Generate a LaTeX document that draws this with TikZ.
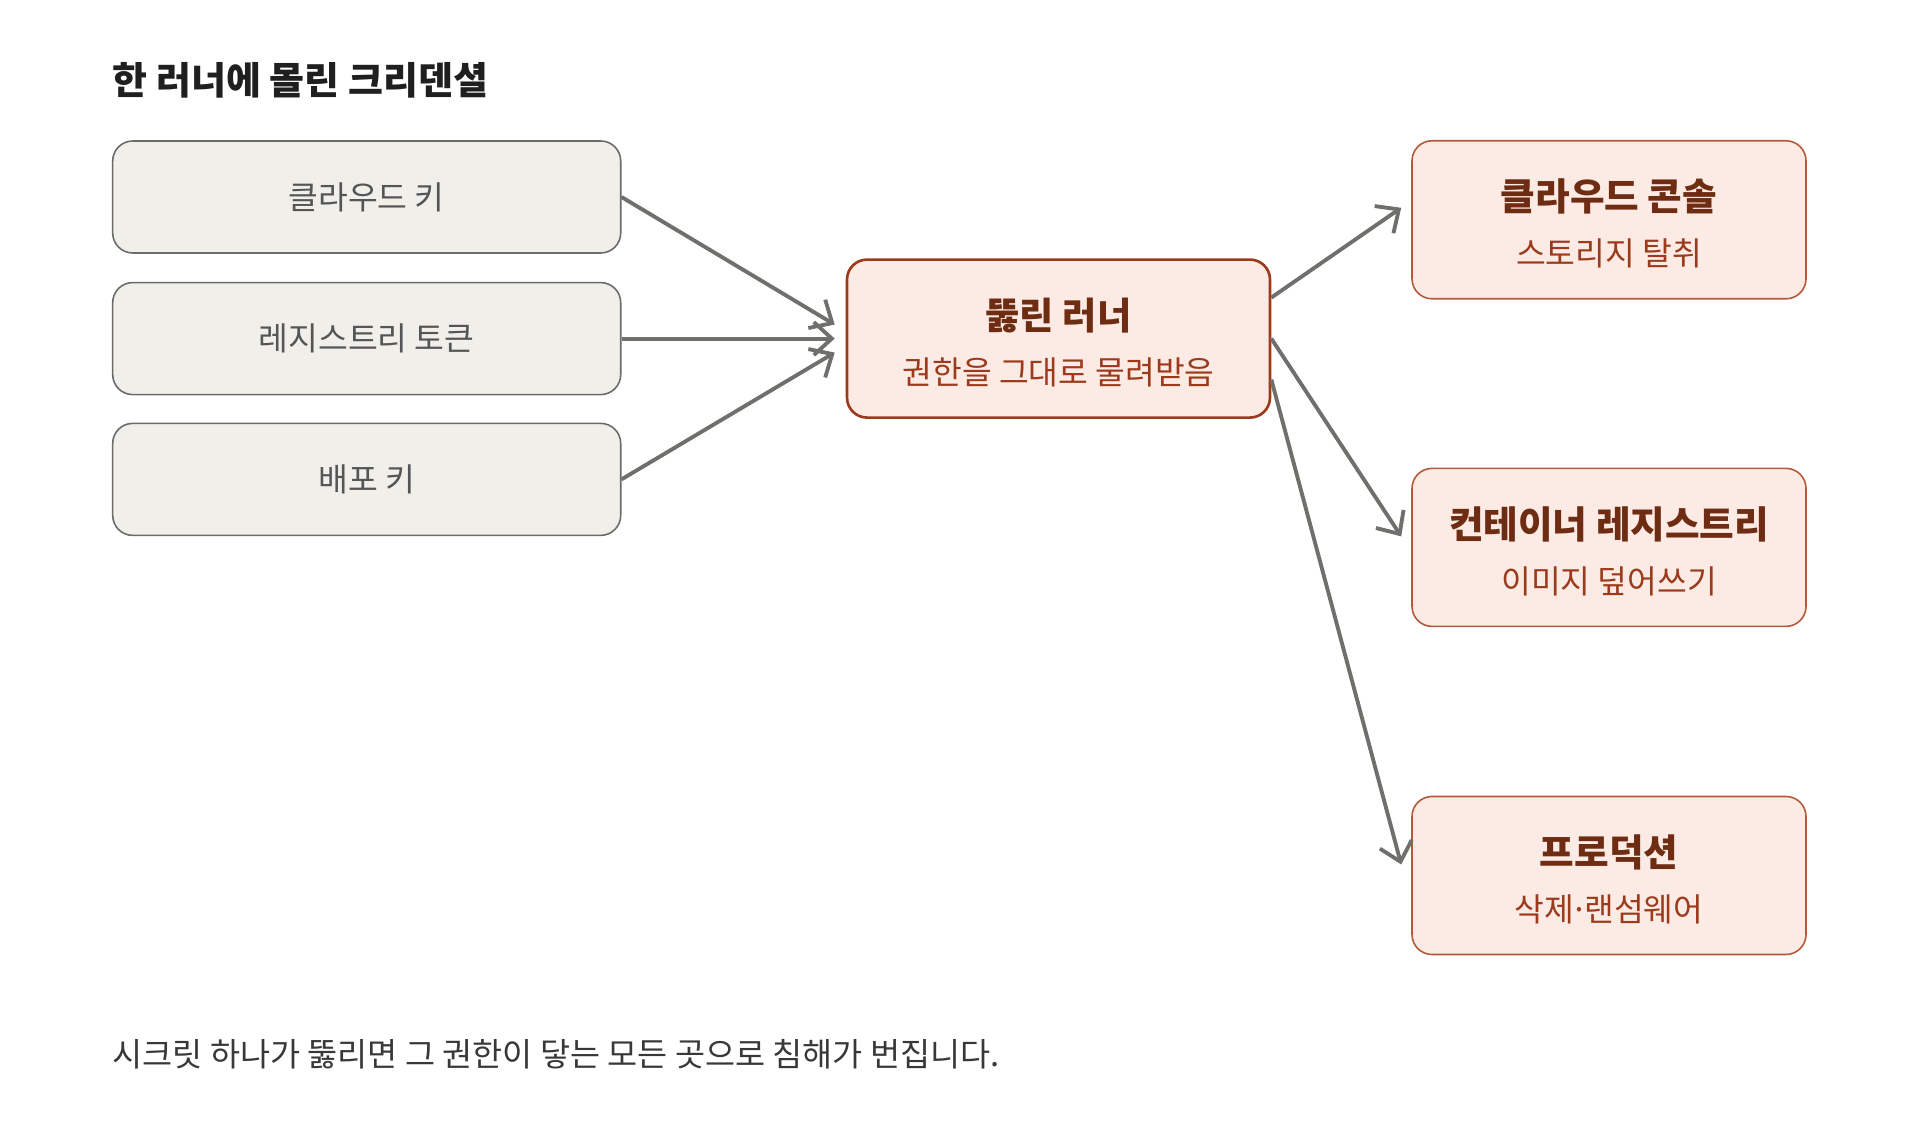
\documentclass[tikz,border=0pt]{standalone}
\usepackage{fontspec}
\setmainfont{Noto Sans CJK KR}
\usepackage{tikz}
\usetikzlibrary{arrows.meta,positioning,calc}
\definecolor{keyFill}{HTML}{F0EFEA}
\definecolor{keyDraw}{HTML}{6B6B6B}
\definecolor{keyText}{HTML}{555555}
\definecolor{hitFill}{HTML}{FCEAE4}
\definecolor{runDraw}{HTML}{9C3B1C}
\definecolor{hitDraw}{HTML}{B4583A}
\definecolor{hitHead}{HTML}{6E2C12}
\definecolor{hitSub}{HTML}{9C3B1C}
\definecolor{arrGray}{HTML}{6F6F6B}
\tikzset{
	kbox/.style={
		draw=keyDraw,
		fill=keyFill,
		rounded corners=0.2cm,
		line width=0.45pt,
		minimum width=5.08cm,
		minimum height=1.12cm,
		inner sep=0pt,
		text=keyText,
		font=\fontsize{9.2}{11}\selectfont
	},
	hbox/.style={
		draw=hitDraw,
		fill=hitFill,
		rounded corners=0.2cm,
		line width=0.45pt,
		minimum width=3.94cm,
		minimum height=1.58cm,
		inner sep=0pt,
		align=center,
		text=hitHead,
		font=\fontsize{10.7}{12}\selectfont
	},
	sarr/.style={-{Straight Barb[length=1.8mm,width=3.3mm]}, line width=1.1pt, arrGray}
}
\newcommand{\hhead}[1]{\rule{0pt}{1.05em}\bfseries #1}
\newcommand{\hsub}[1]{{\fontsize{9.2}{11}\selectfont\mdseries\color{hitSub}#1}}

\begin{document}
\begin{tikzpicture}[x=1cm, y=1cm]
		\useasboundingbox (0,0) rectangle (19.2,11.35);
		\node[anchor=west, inner sep=0pt, text=black!88, font=\fontsize{10.8}{12}\selectfont\bfseries] (title) at (1.12,10.55) {한 러너에 몰린 크리덴셜};
		\node[kbox] (k1) at (3.667,9.38) {클라우드 키};
		\node[kbox] (k2) at (3.667,7.964) {레지스트리 토큰};
		\node[kbox] (k3) at (3.667,6.556) {배포 키};
		\node[hbox, draw=runDraw, line width=0.75pt, minimum width=4.23cm, font=\fontsize{10.6}{12}\selectfont] (run) at (10.585,7.964)
			{\hhead{뚫린 러너}\\[3.6pt]\hsub{권한을 그대로 물려받음}};
		\node[hbox] (c1) at (16.09,9.152) {\hhead{클라우드 콘솔}\\[3.6pt]\hsub{스토리지 탈취}};
		\node[hbox] (c2) at (16.09,5.876) {\hhead{컨테이너 레지스트리}\\[3.6pt]\hsub{이미지 덮어쓰기}};
		\node[hbox] (c3) at (16.09,2.595) {\hhead{프로덕션}\\[3.6pt]\hsub{삭제\kern-0.12em·\kern-0.12em랜섬웨어}};
		\node[anchor=west, inner sep=0pt, text=black!78, font=\fontsize{9.3}{11}\selectfont] (note) at (1.12,0.81)
			{시크릿 하나가 뚫리면 그 권한이 닿는 모든 곳으로 침해가 번집니다.};
		\draw[sarr] (k1.east) -- ($(run.west)+(-0.11,0.14)$);
		\draw[sarr] (k2.east) -- ($(run.west)+(-0.11,0)$);
		\draw[sarr] (k3.east) -- ($(run.west)+(-0.11,-0.14)$);
		\draw[sarr] ($(run.east)+(0,0.41)$) -- ($(c1.west)+(-0.1,0.12)$);
		\draw[sarr] ($(run.east)+(0,0)$) -- ($(c2.west)+(-0.1,0.11)$);
		\draw[sarr] ($(run.east)+(0,-0.41)$) -- ($(c3.west)+(-0.1,0.11)$);
	\end{tikzpicture}
\end{document}
